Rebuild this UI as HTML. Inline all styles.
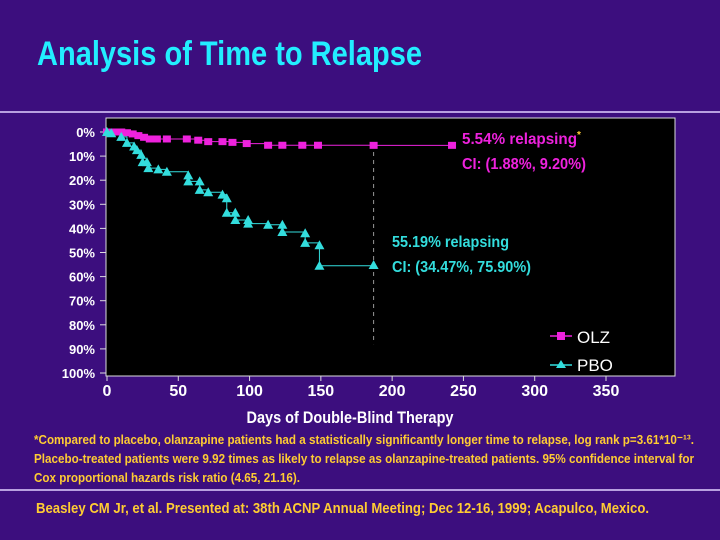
<!DOCTYPE html>
<html><head><meta charset="utf-8"><style>
html,body{margin:0;padding:0;background:#3c0e7e;}
svg{display:block;font-family:"Liberation Sans",Arial,sans-serif;font-weight:bold;}
</style></head><body>
<svg id="chart" width="720" height="540" viewBox="0 0 720 540">
<rect x="0" y="0" width="720" height="540" fill="#3c0e7e"/>
<text x="37" y="65" font-size="34" fill="#22eeff" textLength="385" lengthAdjust="spacingAndGlyphs">Analysis of Time to Relapse</text>
<line x1="0" y1="112" x2="720" y2="112" stroke="#b8a0e0" stroke-width="2"/>
<rect x="106" y="118" width="569" height="258" fill="#000" stroke="#ddd" stroke-width="1"/>
<g id="yaxis"></g>
<g id="xaxis"></g>
<line id="median-line" stroke="#999" stroke-dasharray="4,4" stroke-width="1"/>
<g id="series"></g>
<text x="462" y="144" font-size="16" fill="#ee22dd" textLength="115" lengthAdjust="spacingAndGlyphs">5.54% relapsing</text>
<text x="577" y="138" font-size="10" fill="#ffcc33">*</text>
<text x="462" y="169" font-size="16" fill="#ee22dd" textLength="124" lengthAdjust="spacingAndGlyphs">CI: (1.88%, 9.20%)</text>
<text x="392" y="247" font-size="16" fill="#33dddd" textLength="117" lengthAdjust="spacingAndGlyphs">55.19% relapsing</text>
<text x="392" y="272" font-size="16" fill="#33dddd" textLength="139" lengthAdjust="spacingAndGlyphs">CI: (34.47%, 75.90%)</text>
<g>
<line x1="550" y1="336" x2="572" y2="336" stroke="#ee22dd" stroke-width="1.5"/>
<rect x="557" y="332" width="8" height="8" fill="#ee22dd"/>
<text x="577" y="343" font-size="17" font-weight="normal" fill="#fff">OLZ</text>
<line x1="550" y1="365" x2="572" y2="365" stroke="#33dddd" stroke-width="1.5"/>
<polygon points="561,360 566,368 556,368" fill="#33dddd"/>
<text x="577" y="371" font-size="17" font-weight="normal" fill="#fff">PBO</text>
</g>
<text x="350" y="423" font-size="17" fill="#fff" text-anchor="middle" textLength="207" lengthAdjust="spacingAndGlyphs">Days of Double-Blind Therapy</text>
<g font-size="13" fill="#ffcc33">
<text x="34" y="444" textLength="660" lengthAdjust="spacingAndGlyphs">*Compared to placebo, olanzapine patients had a statistically significantly longer time to relapse, log rank p=3.61*10⁻¹³.</text>
<text x="34" y="463" textLength="660" lengthAdjust="spacingAndGlyphs">Placebo-treated patients were 9.92 times as likely to relapse as olanzapine-treated patients. 95% confidence interval for</text>
<text x="34" y="482" textLength="266" lengthAdjust="spacingAndGlyphs">Cox proportional hazards risk ratio (4.65, 21.16).</text>
</g>
<line x1="0" y1="490" x2="720" y2="490" stroke="#b8a0e0" stroke-width="2"/>
<text x="36" y="513" font-size="15" fill="#ffcc33" textLength="613" lengthAdjust="spacingAndGlyphs">Beasley CM Jr, et al. Presented at: 38th ACNP Annual Meeting; Dec 12-16, 1999; Acapulco, Mexico.</text>
</svg>
<script>
const xTicks=[0,50,100,150,200,250,300,350];
const yTicks=[0,10,20,30,40,50,60,70,80,90,100];
const olzDays=[0,5,10,14,18,22,26,30,35,42,56,64,71,81,88,98,113,123,137,148,187,242];
const olzPct=[0,0,0,0.3,0.8,1.5,2.2,2.9,2.9,2.9,2.9,3.4,4,4,4.3,4.8,5.5,5.5,5.5,5.5,5.54,5.54];
const pboDays=[0,3,10,14,19,21,24,25,28,29,36,42,57,57,65,65,71,81,84,84,90,90,99,99,113,123,123,139,139,149,149,187];
const pboPct=[0,0.5,2,4.5,6,7.5,9.5,12.5,12.5,15,15.5,16.5,18,20.5,20.5,24,25,26,27.5,33.5,33.5,36.5,36.5,38,38.5,38.5,41.5,42,46,47,55.5,55.19];
const medianDay=187;
const NS='http://www.w3.org/2000/svg';
const sx=d=>107+d*(606-107)/350;
const sy=p=>132+p*(373-132)/100;
function mk(tag,attrs,parent){const e=document.createElementNS(NS,tag);for(const k in attrs)e.setAttribute(k,attrs[k]);parent.appendChild(e);return e;}
const ya=document.getElementById('yaxis'),xa=document.getElementById('xaxis'),sg=document.getElementById('series');
yTicks.forEach(t=>{
  const tk=mk('line',{x1:100,x2:106,y1:sy(t),y2:sy(t),stroke:'#ddd'},ya);
  
  
  const l=mk('text',{x:95,y:sy(t)+5,'font-size':13,fill:'#fff','text-anchor':'end'},ya);
  l.textContent=t+'%';
  
  
});
xTicks.forEach(t=>{
  const tk=mk('line',{x1:sx(t),x2:sx(t),y1:376,y2:381,stroke:'#ddd'},xa);
  
  
  const l=mk('text',{x:sx(t),y:396,'font-size':16,fill:'#fff','text-anchor':'middle'},xa);
  l.textContent=t;
  
  
});
const ml=document.getElementById('median-line');
ml.setAttribute('x1',sx(medianDay));ml.setAttribute('x2',sx(medianDay));
ml.setAttribute('y1',sy(5));ml.setAttribute('y2',sy(88));
function stepPath(ds,ps){let d='M'+sx(ds[0])+','+sy(ps[0]);for(let i=1;i<ds.length;i++){d+=' H'+sx(ds[i])+' V'+sy(ps[i]);}return d;}
const op=mk('path',{d:stepPath(olzDays,olzPct),fill:'none',stroke:'#ee22dd','stroke-width':1},sg);


const pp=mk('path',{d:stepPath(pboDays,pboPct),fill:'none',stroke:'#33dddd','stroke-width':1},sg);


olzDays.forEach((d,i)=>{
  const r=mk('rect',{x:sx(d)-4,y:sy(olzPct[i])-3.5,width:8,height:7,fill:'#ee22dd'},sg);
  
  
});
pboDays.forEach((d,i)=>{
  const x=sx(d),y=sy(pboPct[i]);
  const p=mk('polygon',{points:`${x},${y-5} ${x+5},${y+4} ${x-5},${y+4}`,fill:'#33dddd'},sg);
  
  
});
</script>
</body></html>
